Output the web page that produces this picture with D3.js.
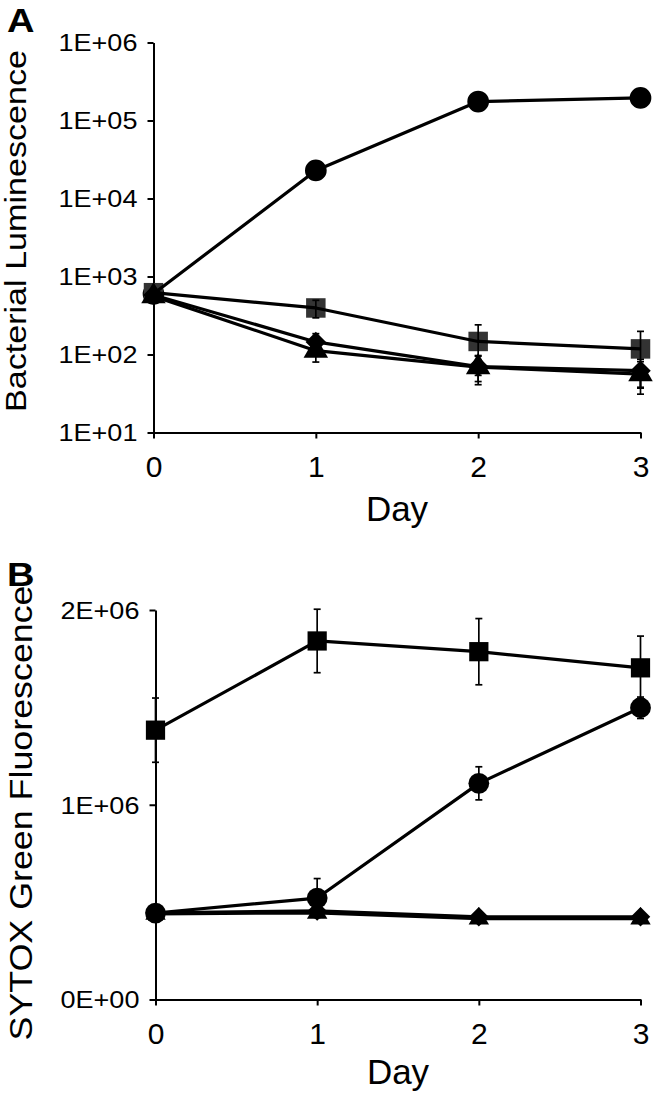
<!DOCTYPE html>
<html><head><meta charset="utf-8">
<script src="https://cdn.jsdelivr.net/npm/d3@7"></script>
<style>body{margin:0;background:#fff} svg{display:block}</style>
</head><body><svg id="c" width="655" height="1095"></svg>
<script>
// ---------- data ----------
const days = [0, 1, 2, 3];
const dayTickLabels = ["0", "1", "2", "3"];

const lumTickValues = [1e1, 1e2, 1e3, 1e4, 1e5, 1e6];
const lumTickLabels = ["1E+01", "1E+02", "1E+03", "1E+04", "1E+05", "1E+06"];
const sytoxTickValues = [0, 1e6, 2e6];
const sytoxTickLabels = ["0E+00", "1E+06", "2E+06"];

// Panel A: bacterial luminescence
const lumCircle = [600, 22900, 175000, 195000];
const lumCircleErr = [40, 1500, 12000, 15000];
const lumSquare = [620, 395, 147, 118];
const lumSquareErr = [50, 100, 93, 80];
const lumDiamond = [580, 145, 70, 62];
const lumDiamondErr = [50, 40, 25, 25];
const lumTriangle = [560, 112, 69, 56];
const lumTriangleErr = [50, 32, 28, 25];

// Panel B: SYTOX green fluorescence
const syCircle = [444000, 521000, 1110000, 1498000];
const syCircleErr = [25000, 100000, 85000, 55000];
const sySquare = [1383000, 1841000, 1786000, 1703000];
const sySquareErr = [165000, 163000, 170000, 163000];
const syDiamond = [445000, 455000, 425000, 425000];
const syDiamondErr = [10000, 10000, 10000, 10000];
const syTriangle = [440000, 445000, 415000, 415000];
const syTriangleErr = [10000, 10000, 10000, 10000];

// ---------- drawing ----------
const svg = d3.select("#c");
const FONT = "'Liberation Sans', Arial, Helvetica, sans-serif";

function drawPanel(o) {
  const x = d3.scaleLinear().domain([0, 3]).range(o.xr);
  const y = o.y;
  const y0 = y.range()[0];

  // y axis
  const ay = svg.append("g").attr("transform", `translate(${o.xr[0]},0)`)
    .call(d3.axisLeft(y).tickValues(o.yTicks).tickFormat((d, i) => o.yLabels[i])
      .tickSizeInner(6).tickSizeOuter(0).tickPadding(8));
  ay.select(".domain").attr("stroke-width", 2);
  ay.selectAll(".tick line").attr("stroke-width", 2);
  ay.selectAll(".tick text").attr("font-family", FONT).attr("font-size", 23.5)
    .attr("fill", "#000").attr("dy", "0.36em").attr("transform", "scale(1.15,1)");

  // x axis
  const ax = svg.append("g").attr("transform", `translate(0,${y0})`)
    .call(d3.axisBottom(x).tickValues(days).tickFormat((d, i) => dayTickLabels[i])
      .tickSizeInner(6).tickSizeOuter(0).tickPadding(17));
  ax.select(".domain").attr("stroke-width", 2);
  ax.selectAll(".tick line").attr("stroke-width", 2);
  ax.selectAll(".tick text").attr("font-family", FONT).attr("font-size", 30).attr("fill", "#000");

  // titles
  svg.append("text").attr("x", d3.mean(o.xr)).attr("y", o.dayY).attr("text-anchor", "middle")
    .attr("font-family", FONT).attr("font-size", 35).text("Day");
  svg.append("text").attr("transform", `translate(${o.titleX},${o.titleY}) rotate(-90)`)
    .attr("text-anchor", "middle").attr("font-family", FONT).attr("font-size", o.titleSize)
    .attr("textLength", o.titleLen).attr("lengthAdjust", "spacingAndGlyphs").text(o.title);
  svg.append("text").attr("x", 7).attr("y", o.letterY).attr("font-family", FONT)
    .attr("font-weight", "bold").attr("font-size", 34)
    .attr("transform", `translate(7,${o.letterY}) scale(1.12,1) translate(-7,${-o.letterY})`)
    .text(o.letter);

  const line = d3.line().x((d, i) => x(days[i])).y(d => y(d));

  // markers
  o.series.forEach(s => {
    const sym = d3.symbol().type(s.type).size(s.size);
    svg.append("g").selectAll("path").data(s.values).join("path")
      .attr("d", sym)
      .attr("fill", s.fill)
      .attr("transform", (d, i) => `translate(${x(days[i])},${y(d)})` + (s.rot ? ` rotate(${s.rot})` : ""));
  });
  // lines
  o.series.forEach(s => {
    svg.append("path").datum(s.values).attr("d", line)
      .attr("fill", "none").attr("stroke", "#000").attr("stroke-width", 3.2)
      .attr("stroke-linejoin", "round");
  });
  // error bars
  o.series.forEach(s => {
    const g = svg.append("g").attr("stroke", "#000").attr("stroke-width", 1.7);
    s.values.forEach((v, i) => {
      const e = s.err[i];
      const lo = Math.max(v - e, y.domain()[0] + 1e-9);
      const cx = x(days[i]);
      const yt = y(v + e), yb = y(lo);
      g.append("line").attr("x1", cx).attr("x2", cx).attr("y1", yt).attr("y2", yb);
      g.append("line").attr("x1", cx - 3.5).attr("x2", cx + 3.5).attr("y1", yt).attr("y2", yt);
      if (v - e > y.domain()[0]) g.append("line").attr("x1", cx - 3.5).attr("x2", cx + 3.5).attr("y1", yb).attr("y2", yb);
    });
  });
}

drawPanel({
  xr: [153.5, 640.5],
  y: d3.scaleLog().domain([1e1, 1e6]).range([432.5, 42.5]),
  yTicks: lumTickValues, yLabels: lumTickLabels,
  dayY: 521, title: "Bacterial Luminescence", titleX: 26, titleY: 231, titleSize: 30, titleLen: 362,
  letter: "A", letterY: 32,
  series: [
    { values: lumCircle, err: lumCircleErr, type: d3.symbolCircle, size: 370, fill: "#000" },
    { values: lumSquare, err: lumSquareErr, type: d3.symbolSquare, size: 380, fill: "#333" },
    { values: lumDiamond, err: lumDiamondErr, type: d3.symbolSquare, size: 210, fill: "#000", rot: 45 },
    { values: lumTriangle, err: lumTriangleErr, type: d3.symbolTriangle, size: 260, fill: "#000" }
  ]
});

drawPanel({
  xr: [155.5, 640.5],
  y: d3.scaleLinear().domain([0, 2e6]).range([999.5, 610]),
  yTicks: sytoxTickValues, yLabels: sytoxTickLabels,
  dayY: 1084, title: "SYTOX Green Fluorescence", titleX: 32, titleY: 813, titleSize: 32, titleLen: 455,
  letter: "B", letterY: 586,
  series: [
    { values: syCircle, err: syCircleErr, type: d3.symbolCircle, size: 340, fill: "#000" },
    { values: sySquare, err: sySquareErr, type: d3.symbolSquare, size: 370, fill: "#000" },
    { values: syDiamond, err: syDiamondErr, type: d3.symbolSquare, size: 190, fill: "#000", rot: 45 },
    { values: syTriangle, err: syTriangleErr, type: d3.symbolTriangle, size: 180, fill: "#000" }
  ]
});
</script></body></html>
